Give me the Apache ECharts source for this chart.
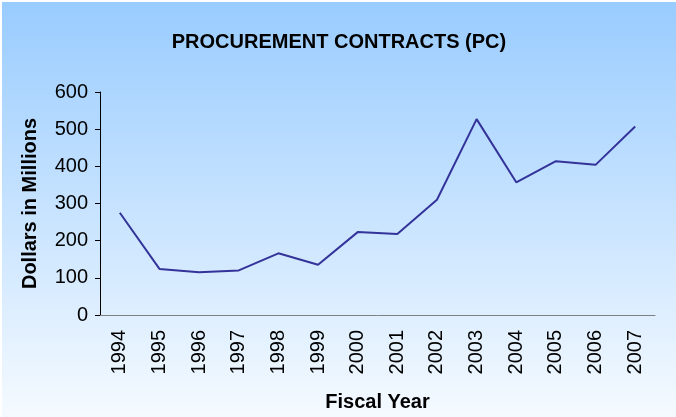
<!DOCTYPE html>
<html>
<head>
<meta charset="utf-8">
<script src="https://cdn.jsdelivr.net/npm/echarts@6/dist/echarts.min.js"></script>
<style>
    html, body { margin: 0; padding: 0; background: #fff; }
    #main { position: absolute; left: 2px; top: 2px; width: 674px; height: 415px; }
</style>
</head>
<body>
<div id="main"></div>
<script>
var years = ['1994', '1995', '1996', '1997', '1998', '1999', '2000',
    '2001', '2002', '2003', '2004', '2005', '2006', '2007'];
var contracts = [275, 124, 115, 120, 166, 135, 223, 218, 310, 527, 357, 414, 404, 507];
var yTicks = [0, 100, 200, 300, 400, 500, 600];

var myChart = echarts.init(document.getElementById('main'));
var font = 'Arial, "Liberation Sans", sans-serif';
var option = {
    backgroundColor: new echarts.graphic.LinearGradient(0, 0, 0, 1, [
        { offset: 0, color: '#99CCFF' },
        { offset: 1, color: '#F5FAFF' }
    ]),
    title: {
        text: 'PROCUREMENT CONTRACTS (PC)',
        left: 'center',
        top: 25,
        textStyle: { fontFamily: font, fontSize: 20, fontWeight: 'bold', color: '#000' }
    },
    grid: { left: 98, right: 21, top: 90, bottom: 98 },
    xAxis: {
        type: 'category',
        data: years,
        boundaryGap: true,
        name: 'Fiscal Year',
        nameLocation: 'middle',
        nameGap: 77,
        nameTextStyle: { fontFamily: font, fontSize: 20, fontWeight: 'bold', color: '#000' },
        axisLine: { lineStyle: { color: '#808080', width: 1 } },
        axisTick: { length: 5, lineStyle: { color: '#000' } },
        axisLabel: { rotate: 90, margin: 15, fontFamily: font, fontSize: 20, color: '#000' }
    },
    yAxis: {
        type: 'value',
        min: yTicks[0],
        max: yTicks[yTicks.length - 1],
        interval: 100,
        name: 'Dollars in Millions',
        nameLocation: 'middle',
        nameGap: 60,
        nameTextStyle: { fontFamily: font, fontSize: 20, fontWeight: 'bold', color: '#000' },
        axisLine: { show: true, lineStyle: { color: '#000', width: 1 } },
        axisTick: { show: true, length: 5, lineStyle: { color: '#000' } },
        splitLine: { show: false },
        axisLabel: { margin: 12, fontFamily: font, fontSize: 20, color: '#000' }
    },
    series: [{
        name: 'PC',
        type: 'line',
        data: contracts,
        symbol: 'none',
        lineStyle: { color: '#333399', width: 2 },
        animation: false
    }]
};
myChart.setOption(option);
</script>
</body>
</html>
